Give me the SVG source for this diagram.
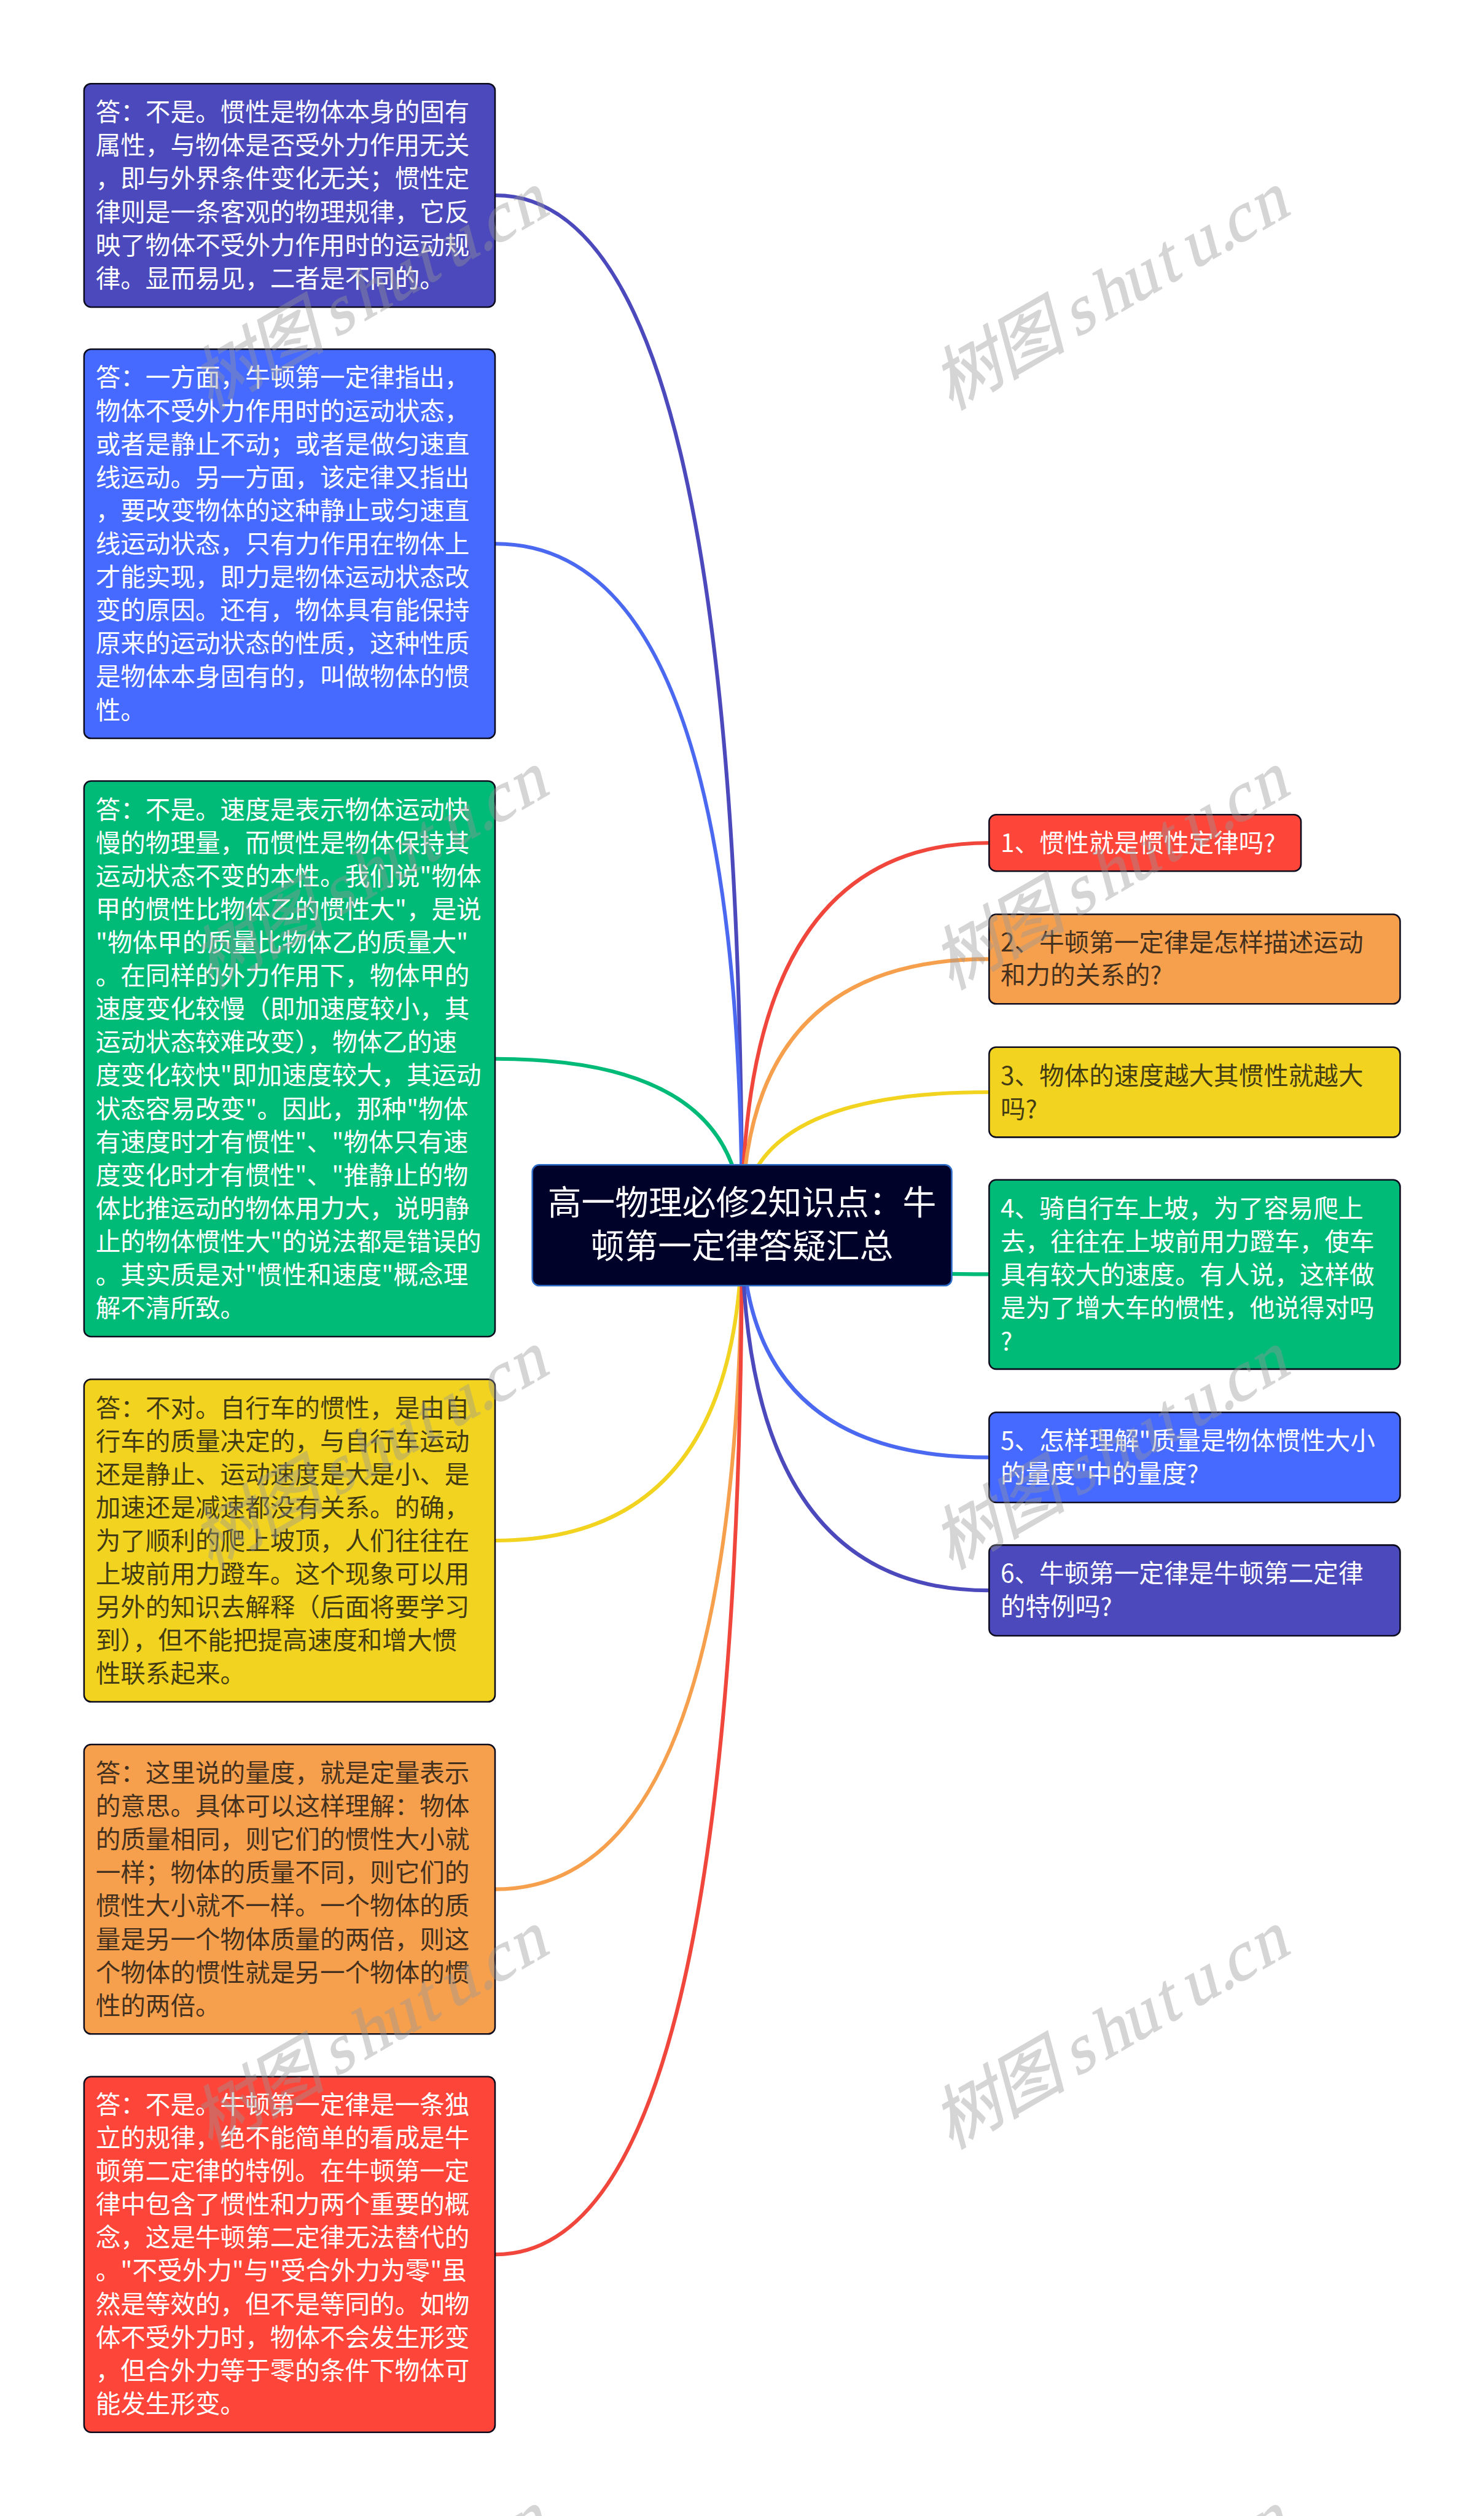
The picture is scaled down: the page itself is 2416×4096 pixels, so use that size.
<svg xmlns="http://www.w3.org/2000/svg" width="2416" height="4096" viewBox="0 0 2416 4096">
<style>
text{font-family:"Noto Sans CJK SC","Noto Sans",sans-serif;font-size:43px}
.box{stroke:#0c0c1e;stroke-width:2.7}
.w text{fill:#fff}
.d text{fill:#111;fill-opacity:.8}
.c{fill:none;stroke-width:6.5}
.title text{font-size:58px;fill:#fff;text-anchor:middle}
text.wmk{font-family:"Liberation Serif","Noto Sans CJK SC",serif;font-size:118px;fill:#989898;stroke:#989898;stroke-width:1.5;opacity:.4}
</style>
<defs>
<text id="wm" class="wmk" x="0 114 228 250 307 364 430 482 542 562 620">树图 shutu.cn</text>
</defs>
<rect width="2416" height="4096" fill="#fff"/>
<g transform="scale(0.94375)">
<g id="connectors">
<path class="c" stroke="#4b49bb" d="M855 337Q1280 337 1280 2113"/>
<path class="c" stroke="#4a68f0" d="M855 938Q1280 938 1280 2113"/>
<path class="c" stroke="#00bb77" d="M855 1826.5Q1280 1826.5 1280 2113"/>
<path class="c" stroke="#f2d420" d="M855 2657.5Q1280 2657.5 1280 2113"/>
<path class="c" stroke="#f6a04d" d="M855 3259Q1280 3259 1280 2113"/>
<path class="c" stroke="#f0463c" d="M855 3889Q1280 3889 1280 2113"/>
<path class="c" stroke="#f0463c" d="M1705 1454Q1280 1454 1280 2113"/>
<path class="c" stroke="#f6a04d" d="M1705 1654.5Q1280 1654.5 1280 2113"/>
<path class="c" stroke="#f2d420" d="M1705 1884Q1280 1884 1280 2113"/>
<path class="c" stroke="#00bb77" d="M1705 2198Q1280 2198 1280 2113"/>
<path class="c" stroke="#4a68f0" d="M1705 2514Q1280 2514 1280 2113"/>
<path class="c" stroke="#4b49bb" d="M1705 2743.5Q1280 2743.5 1280 2113"/>
</g>
<g id="center" class="title">
<rect x="918.3" y="2009.3" width="723.5" height="208.5" rx="12" fill="#000229" stroke="#2e6cc8" stroke-width="2.7"/>
<text x="1280" y="2095">高一物理必修2知识点&#xFF1A;牛</text>
<text x="1280" y="2170">顿第一定律答疑汇总</text>
</g>
<g id="left1" class="w">
<rect class="box" x="145" y="144.3" width="709" height="385.4" rx="12" fill="#4b49bb"/>
<text x="165" y="209">答&#xFF1A;不是。惯性是物体本身的固有</text>
<text x="165" y="266.3">属性&#xFF0C;与物体是否受外力作用无关</text>
<text x="165" y="323.7">&#xFF0C;即与外界条件变化无关&#xFF1B;惯性定</text>
<text x="165" y="381">律则是一条客观的物理规律&#xFF0C;它反</text>
<text x="165" y="438.3">映了物体不受外力作用时的运动规</text>
<text x="165" y="495.7">律。显而易见&#xFF0C;二者是不同的。</text>
</g>
<g id="left2" class="w">
<rect class="box" x="145" y="602.3" width="709" height="671.4" rx="12" fill="#4669ff"/>
<text x="165" y="667">答&#xFF1A;一方面&#xFF0C;牛顿第一定律指出&#xFF0C;</text>
<text x="165" y="724.3">物体不受外力作用时的运动状态&#xFF0C;</text>
<text x="165" y="781.7">或者是静止不动&#xFF1B;或者是做匀速直</text>
<text x="165" y="839">线运动。另一方面&#xFF0C;该定律又指出</text>
<text x="165" y="896.3">&#xFF0C;要改变物体的这种静止或匀速直</text>
<text x="165" y="953.7">线运动状态&#xFF0C;只有力作用在物体上</text>
<text x="165" y="1011">才能实现&#xFF0C;即力是物体运动状态改</text>
<text x="165" y="1068.3">变的原因。还有&#xFF0C;物体具有能保持</text>
<text x="165" y="1125.7">原来的运动状态的性质&#xFF0C;这种性质</text>
<text x="165" y="1183">是物体本身固有的&#xFF0C;叫做物体的惯</text>
<text x="165" y="1240.3">性。</text>
</g>
<g id="left3" class="w">
<rect class="box" x="145" y="1347.3" width="709" height="958.4" rx="12" fill="#00bb77"/>
<text x="165" y="1412">答&#xFF1A;不是。速度是表示物体运动快</text>
<text x="165" y="1469.3">慢的物理量&#xFF0C;而惯性是物体保持其</text>
<text x="165" y="1526.7">运动状态不变的本性。我们说"物体</text>
<text x="165" y="1584">甲的惯性比物体乙的惯性大"&#xFF0C;是说</text>
<text x="165" y="1641.3">"物体甲的质量比物体乙的质量大"</text>
<text x="165" y="1698.7">。在同样的外力作用下&#xFF0C;物体甲的</text>
<text x="165" y="1756">速度变化较慢&#xFF08;即加速度较小&#xFF0C;其</text>
<text x="165" y="1813.3">运动状态较难改变&#xFF09;&#xFF0C;物体乙的速</text>
<text x="165" y="1870.7">度变化较快"即加速度较大&#xFF0C;其运动</text>
<text x="165" y="1928">状态容易改变"。因此&#xFF0C;那种"物体</text>
<text x="165" y="1985.3">有速度时才有惯性"、"物体只有速</text>
<text x="165" y="2042.7">度变化时才有惯性"、"推静止的物</text>
<text x="165" y="2100">体比推运动的物体用力大&#xFF0C;说明静</text>
<text x="165" y="2157.3">止的物体惯性大"的说法都是错误的</text>
<text x="165" y="2214.7">。其实质是对"惯性和速度"概念理</text>
<text x="165" y="2272">解不清所致。</text>
</g>
<g id="left4" class="d">
<rect class="box" x="145" y="2379.3" width="709" height="556.4" rx="12" fill="#f2d420"/>
<text x="165" y="2444">答&#xFF1A;不对。自行车的惯性&#xFF0C;是由自</text>
<text x="165" y="2501.3">行车的质量决定的&#xFF0C;与自行车运动</text>
<text x="165" y="2558.7">还是静止、运动速度是大是小、是</text>
<text x="165" y="2616">加速还是减速都没有关系。的确&#xFF0C;</text>
<text x="165" y="2673.3">为了顺利的爬上坡顶&#xFF0C;人们往往在</text>
<text x="165" y="2730.7">上坡前用力蹬车。这个现象可以用</text>
<text x="165" y="2788">另外的知识去解释&#xFF08;后面将要学习</text>
<text x="165" y="2845.3">到&#xFF09;&#xFF0C;但不能把提高速度和增大惯</text>
<text x="165" y="2902.7">性联系起来。</text>
</g>
<g id="left5" class="d">
<rect class="box" x="145" y="3009.3" width="709" height="499.4" rx="12" fill="#f6a04d"/>
<text x="165" y="3074">答&#xFF1A;这里说的量度&#xFF0C;就是定量表示</text>
<text x="165" y="3131.3">的意思。具体可以这样理解&#xFF1A;物体</text>
<text x="165" y="3188.7">的质量相同&#xFF0C;则它们的惯性大小就</text>
<text x="165" y="3246">一样&#xFF1B;物体的质量不同&#xFF0C;则它们的</text>
<text x="165" y="3303.3">惯性大小就不一样。一个物体的质</text>
<text x="165" y="3360.7">量是另一个物体质量的两倍&#xFF0C;则这</text>
<text x="165" y="3418">个物体的惯性就是另一个物体的惯</text>
<text x="165" y="3475.3">性的两倍。</text>
</g>
<g id="left6" class="w">
<rect class="box" x="145" y="3582.3" width="709" height="613.4" rx="12" fill="#fe4539"/>
<text x="165" y="3646">答&#xFF1A;不是。牛顿第一定律是一条独</text>
<text x="165" y="3703.3">立的规律&#xFF0C;绝不能简单的看成是牛</text>
<text x="165" y="3760.7">顿第二定律的特例。在牛顿第一定</text>
<text x="165" y="3818">律中包含了惯性和力两个重要的概</text>
<text x="165" y="3875.3">念&#xFF0C;这是牛顿第二定律无法替代的</text>
<text x="165" y="3932.7">。"不受外力"与"受合外力为零"虽</text>
<text x="165" y="3990">然是等效的&#xFF0C;但不是等同的。如物</text>
<text x="165" y="4047.3">体不受外力时&#xFF0C;物体不会发生形变</text>
<text x="165" y="4104.7">&#xFF0C;但合外力等于零的条件下物体可</text>
<text x="165" y="4162">能发生形变。</text>
</g>
<g id="right1" class="w">
<rect class="box" x="1706.3" y="1405.3" width="538" height="97.4" rx="12" fill="#fe4539"/>
<text x="1726" y="1470">1、惯性就是惯性定律吗?</text>
</g>
<g id="right2" class="d">
<rect class="box" x="1706.3" y="1577.3" width="709" height="154.4" rx="12" fill="#f6a04d"/>
<text x="1726" y="1641">2、牛顿第一定律是怎样描述运动</text>
<text x="1726" y="1698">和力的关系的?</text>
</g>
<g id="right3" class="d">
<rect class="box" x="1706.3" y="1806.3" width="709" height="155.4" rx="12" fill="#f2d420"/>
<text x="1726" y="1871">3、物体的速度越大其惯性就越大</text>
<text x="1726" y="1928">吗?</text>
</g>
<g id="right4" class="w">
<rect class="box" x="1706.3" y="2035.3" width="709" height="326.4" rx="12" fill="#00bb77"/>
<text x="1726" y="2100">4、骑自行车上坡&#xFF0C;为了容易爬上</text>
<text x="1726" y="2157.3">去&#xFF0C;往往在上坡前用力蹬车&#xFF0C;使车</text>
<text x="1726" y="2214.7">具有较大的速度。有人说&#xFF0C;这样做</text>
<text x="1726" y="2272">是为了增大车的惯性&#xFF0C;他说得对吗</text>
<text x="1726" y="2329.3">?</text>
</g>
<g id="right5" class="w">
<rect class="box" x="1706.3" y="2436.3" width="709" height="155.4" rx="12" fill="#4669ff"/>
<text x="1726" y="2501">5、怎样理解"质量是物体惯性大小</text>
<text x="1726" y="2558">的量度"中的量度?</text>
</g>
<g id="right6" class="w">
<rect class="box" x="1706.3" y="2665.3" width="709" height="156.4" rx="12" fill="#4b49bb"/>
<text x="1726" y="2730">6、牛顿第一定律是牛顿第二定律</text>
<text x="1726" y="2787">的特例吗?</text>
</g>
<g id="watermarks">
<use href="#wm" transform="translate(1640 708) rotate(-30) skewX(-15)"/>
<use href="#wm" transform="translate(362 708) rotate(-30) skewX(-15)"/>
<use href="#wm" transform="translate(1640 1708) rotate(-30) skewX(-15)"/>
<use href="#wm" transform="translate(362 1708) rotate(-30) skewX(-15)"/>
<use href="#wm" transform="translate(1640 2708) rotate(-30) skewX(-15)"/>
<use href="#wm" transform="translate(362 2708) rotate(-30) skewX(-15)"/>
<use href="#wm" transform="translate(1640 3708) rotate(-30) skewX(-15)"/>
<use href="#wm" transform="translate(362 3708) rotate(-30) skewX(-15)"/>
<use href="#wm" transform="translate(1640 4708) rotate(-30) skewX(-15)"/>
<use href="#wm" transform="translate(362 4708) rotate(-30) skewX(-15)"/>
</g>
</g>
</svg>
